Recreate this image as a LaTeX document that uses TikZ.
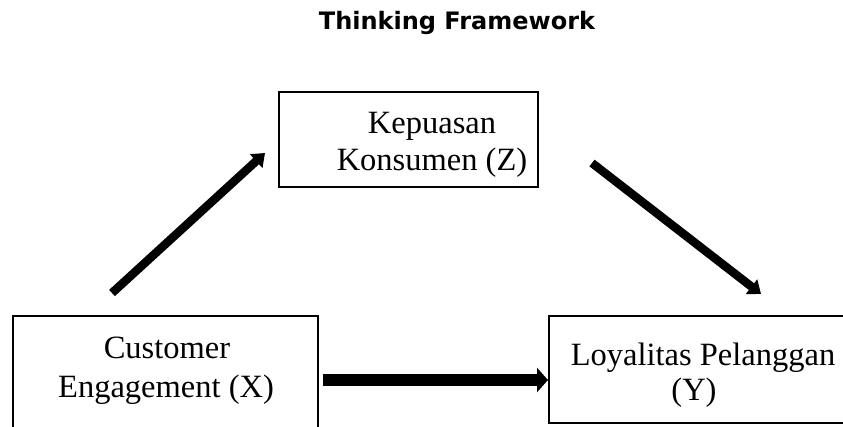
\documentclass[tikz,border=0pt]{standalone}
\usepackage{fontspec}
\setmainfont{Liberation Serif}
\newfontfamily\titlefont{DejaVu Sans}
\usetikzlibrary{arrows.meta}
\begin{document}
\begin{tikzpicture}[x=1pt,y=-1pt,
  boxstyle/.style={draw=black,line width=1.4pt,inner sep=0pt},
  txt/.style={font=\fontsize{32.5}{38}\selectfont,align=center,inner sep=0pt,anchor=base},
  bigarrow/.style={line width=12pt,-{Triangle[width=24pt,length=11pt]}},
  diagarrow/.style={line width=8.5pt,-{Triangle[width=18pt,length=12pt]}}]
\useasboundingbox (0,0) rectangle (843,426);
\clip (0,0) rectangle (843,426);
% title
\node[font=\titlefont\bfseries\fontsize{24}{28}\selectfont,anchor=base] (title) at (457,29) {Thinking Framework};
% boxes
\node[boxstyle,minimum width=259pt,minimum height=95pt] (Z) at (408.5,139.5) {};
\node[boxstyle,minimum width=305pt,minimum height=130pt] (X) at (165.5,381) {};
\node[boxstyle,minimum width=300pt,minimum height=107pt] (Y) at (699,369.5) {};
% texts
\node[txt] (zt1) at (432,133) {Kepuasan};
\node[txt] (zt2) at (432,170) {Konsumen (Z)};
\node[txt] (xt1) at (167,358) {Customer};
\node[txt] (xt2) at (166,397) {Engagement (X)};
\node[txt] (yt1) at (703,365) {Loyalitas Pelanggan};
\node[txt] (yt2) at (694,400) {(Y)};
% arrow ends
\coordinate (a1s) at (112,293);
\coordinate (a1e) at (265,153);
\coordinate (a2s) at (592,163);
\coordinate (a2e) at (761,294);
\coordinate (a3s) at (323,380);
\coordinate (a3e) at (548,380);
\draw[diagarrow] (a1s) -- (a1e);
\draw[diagarrow] (a2s) -- (a2e);
\draw[bigarrow] (a3s) -- (a3e);
\end{tikzpicture}
\end{document}
